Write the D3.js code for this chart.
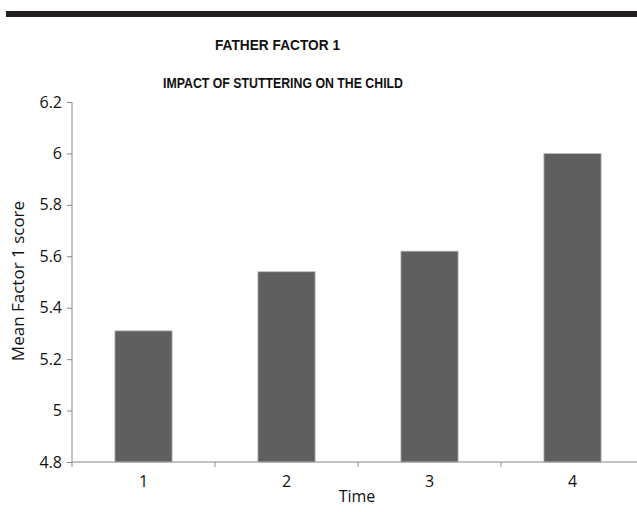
<!DOCTYPE html>
<html>
<head>
<meta charset="utf-8">
<script src="https://cdn.jsdelivr.net/npm/d3@7"></script>
<style>
  html, body { margin: 0; padding: 0; background: #fff; }
  svg { display: block; }
</style>
</head>
<body>
<svg id="chart" width="637" height="512"></svg>
<script>
const categories = ["1", "2", "3", "4"];
const values = [5.31, 5.54, 5.62, 6.0];
const yTicks = [4.8, 5, 5.2, 5.4, 5.6, 5.8, 6, 6.2];
const titles = ["FATHER FACTOR 1", "IMPACT OF STUTTERING ON THE CHILD"];
const xTitle = "Time";
const yTitle = "Mean Factor 1 score";

const svg = d3.select("#chart");
const axisFont = "'Open Sans', 'Noto Sans', sans-serif";

// top black rule
svg.append("rect").attr("x", 6).attr("y", 11).attr("width", 631).attr("height", 6).attr("fill", "#231f20");

svg.append("text").attr("x", 277.5).attr("y", 50).attr("text-anchor", "middle")
  .attr("font-family", "'Liberation Sans', Arial, sans-serif").attr("font-weight", "bold")
  .attr("font-size", 14).attr("fill", "#111")
  .attr("textLength", 125).attr("lengthAdjust", "spacingAndGlyphs").text(titles[0]);
svg.append("text").attr("x", 283).attr("y", 88).attr("text-anchor", "middle")
  .attr("font-family", "'Liberation Sans', Arial, sans-serif").attr("font-weight", "bold")
  .attr("font-size", 14).attr("fill", "#111")
  .attr("textLength", 240).attr("lengthAdjust", "spacingAndGlyphs").text(titles[1]);

const x = d3.scaleBand().domain(categories).range([72, 644]).paddingInner(0.6).paddingOuter(0.3);
const y = d3.scaleLinear().domain([4.8, 6.2]).range([462, 102]);

// bars
svg.append("g").selectAll("rect").data(values).join("rect")
  .attr("x", (d, i) => x(categories[i]))
  .attr("width", x.bandwidth())
  .attr("y", d => y(d))
  .attr("height", d => y(4.8) - y(d))
  .attr("fill", "#5f5f5f")
  .attr("stroke", "#bdbdbd").attr("stroke-width", 0.8);

// y axis
const yAxis = svg.append("g").attr("transform", "translate(72,0)")
  .call(d3.axisLeft(y).tickValues(yTicks).tickSize(5).tickPadding(5).tickFormat(d3.format("")));
yAxis.select(".domain").attr("stroke", "#8a8a8a").attr("d", "M0,102V462");
yAxis.selectAll(".tick line").attr("stroke", "#8a8a8a");
yAxis.selectAll("text").attr("font-family", axisFont).attr("font-size", 16).attr("fill", "#111");

// x axis with boundary ticks
const xAxisG = svg.append("g").attr("transform", "translate(0,462)");
xAxisG.append("line").attr("x1", 72).attr("x2", 637).attr("y1", 0).attr("y2", 0).attr("stroke", "#8a8a8a").attr("stroke-width", 1.2);
const step = x.step();
const tickXs = d3.range(categories.length + 1).map(i => 72 + i * step);
xAxisG.selectAll("line.tk").data(tickXs).join("line").attr("class", "tk")
  .attr("x1", d => d).attr("x2", d => d).attr("y1", 0).attr("y2", 5).attr("stroke", "#8a8a8a");
xAxisG.selectAll("text").data(categories).join("text")
  .attr("x", d => x(d) + x.bandwidth() / 2).attr("y", 25).attr("text-anchor", "middle")
  .attr("font-family", axisFont).attr("font-size", 16).attr("fill", "#111").text(d => d);

// axis titles
svg.append("text").attr("x", 357).attr("y", 502).attr("text-anchor", "middle")
  .attr("font-family", axisFont).attr("font-size", 16).attr("fill", "#111").text(xTitle);
svg.append("text").attr("transform", "translate(24,281) rotate(-90)").attr("text-anchor", "middle")
  .attr("font-family", axisFont).attr("font-size", 17).attr("fill", "#111").text(yTitle);
</script>
</body>
</html>
